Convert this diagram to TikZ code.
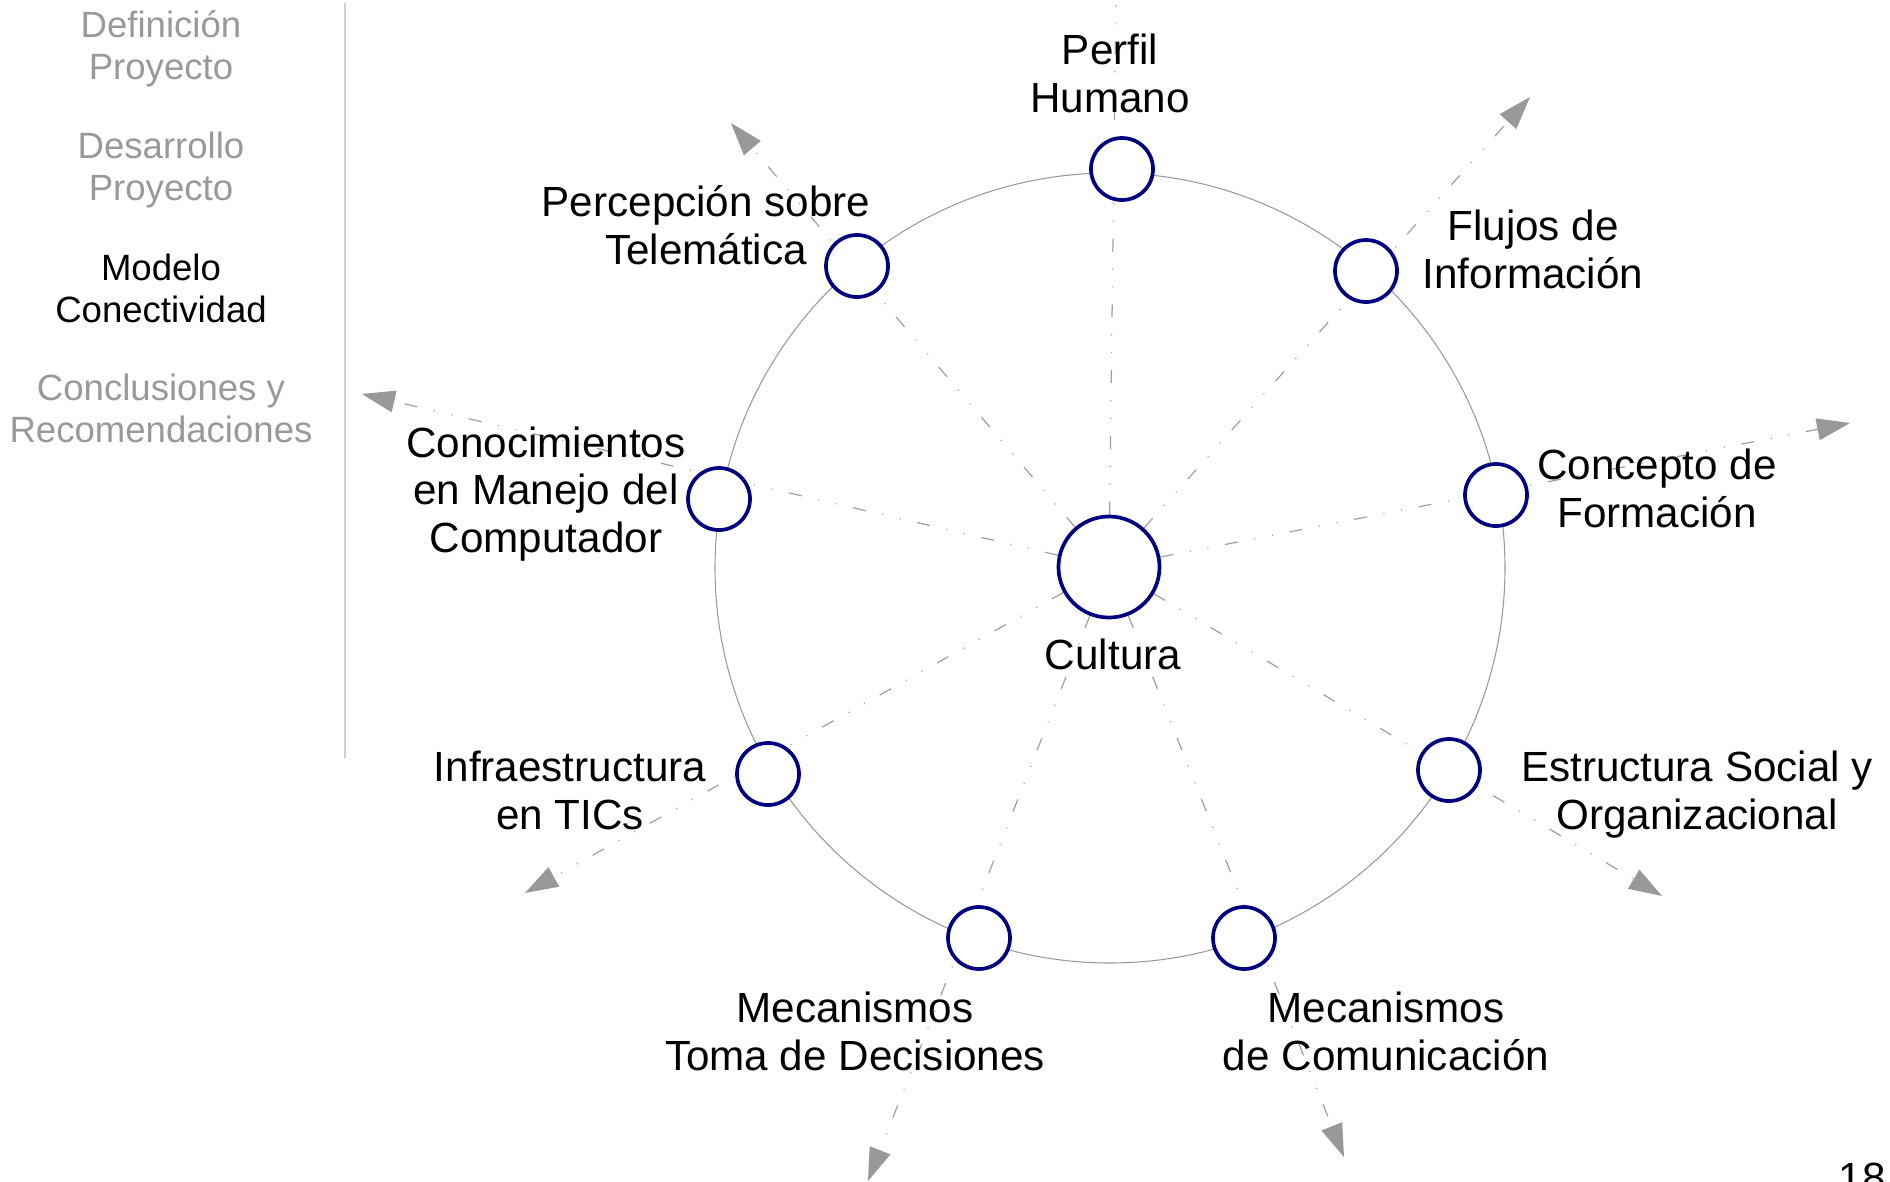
\documentclass[tikz,border=0pt]{standalone}
\usepackage{fontspec}
\setmainfont{Liberation Sans}
\usetikzlibrary{arrows.meta}
\pgfdeclarelayer{bg}
\pgfsetlayers{bg,main}
\definecolor{ringblue}{HTML}{000080}
\definecolor{spokegray}{HTML}{A0A0A0}
\definecolor{tipgray}{HTML}{999999}
\definecolor{menugray}{HTML}{999999}
\definecolor{sepgray}{HTML}{D0D0D0}
\begin{document}
\begin{tikzpicture}[x=0.01cm,y=-0.01cm,
  sat/.style={circle,draw=ringblue,line width=1.05pt,fill=white,minimum size=0.62cm,inner sep=0pt},
  hub/.style={circle,draw=ringblue,line width=1.05pt,fill=white,minimum size=1.01cm,inner sep=0pt},
  lbl/.style={align=center,font=\fontsize{12}{13.4}\selectfont,inner sep=0pt,anchor=base},
  menu/.style={align=center,font=\fontsize{10.4}{11.9}\selectfont,inner sep=0pt,anchor=base,text=menugray},
  spoke/.style={draw=spokegray,line width=0.35pt,dash pattern=on 3.7pt off 4.8pt on 0.3pt off 4.8pt on 0.3pt off 4.8pt},
  tipped/.style={-{Triangle[length=0.33cm,width=0.22cm,color=tipgray]}}]
\useasboundingbox (0,0) rectangle (1890,1181);
\clip (0,0) rectangle (1890,1181);

% separator and menu (anchor base = last line baseline)
\coordinate (sepTop) at (345,3);
\coordinate (sepBot) at (345,758);
\draw[sepgray,line width=0.4pt] (sepTop) -- (sepBot);
\node[menu] (m1) at (161,79) {Definición\\Proyecto};
\node[menu] (m2) at (161,200) {Desarrollo\\Proyecto};
\node[menu,text=black] (m3) at (161,322) {Modelo\\Conectividad};
\node[menu] (m4) at (161,442) {Conclusiones y\\Recomendaciones};

% big ring
\coordinate (ringC) at (1110,568);
\draw[gray!80,line width=0.3pt] (ringC) circle[radius=395];

% hub and satellites
\node[hub] (C) at (1109,567) {};
\node[sat] (s1) at (1122,169) {};
\node[sat] (s2) at (1366,271) {};
\node[sat] (s3) at (1496,495) {};
\node[sat] (s4) at (1449,770) {};
\node[sat] (s5) at (1244,938) {};
\node[sat] (s6) at (979,938) {};
\node[sat] (s7) at (768,774) {};
\node[sat] (s8) at (719,499) {};
\node[sat] (s9) at (857,266) {};

% arrow ends
\coordinate (t1) at (1116,-10);
\coordinate (t2) at (1530,97);
\coordinate (t3) at (1850,423);
\coordinate (t4) at (1662,896);
\coordinate (t5) at (1344,1157);
\coordinate (t6) at (868,1181);
\coordinate (t7) at (525,893);
\coordinate (t8) at (362,394);
\coordinate (t9) at (731,123);

\begin{pgfonlayer}{bg}
  \draw[spoke] (C) -- (t1);
  \foreach \i in {2,...,9} {\draw[spoke,tipped] (C) -- (t\i);}
\end{pgfonlayer}

% labels (anchor base = last line baseline)
\node[lbl] (l1) at (1110,112) {Perfil\\Humano};
\node[lbl] (l2) at (1533,288) {Flujos de\\Información};
\node[lbl] (l3) at (1657,527) {Concepto de\\Formación};
\node[lbl] (l4) at (1697,829) {Estructura Social y\\Organizacional};
\node[lbl] (l5) at (1386,1070) {Mecanismos\\de Comunicación};
\node[lbl] (l6) at (855,1070) {Mecanismos\\Toma de Decisiones};
\node[lbl] (l7) at (570,829) {Infraestructura\\en TICs};
\node[lbl] (l8) at (546,552) {Conocimientos\\en Manejo del\\Computador};
\node[lbl] (l9) at (706,264) {Percepción sobre\\Telemática};
\node[lbl] (lc) at (1113,669) {Cultura};
\node[lbl,anchor=base west] (pg) at (1838,1192) {18};
\end{tikzpicture}
\end{document}
